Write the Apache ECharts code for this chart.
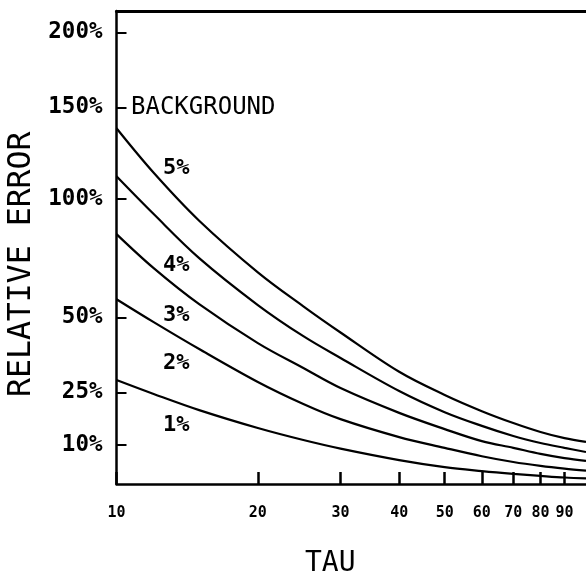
<!DOCTYPE html>
<html>
<head>
<meta charset="utf-8">
<script src="https://cdn.jsdelivr.net/npm/echarts@6/dist/echarts.min.js"></script>
<style>html,body{margin:0;padding:0;background:#fff;}#c{width:586px;height:575px;}</style>
</head>
<body>
<div id="c"></div>
<script>
// TAU values (x) at which curves were read
const tau = [10, 12, 15, 20, 25, 30, 40, 50, 60, 70, 80, 90, 100];
// Relative error (%) for each background level
const bg5 = [137.7, 113.3, 89.8, 67.4, 54.1, 44.6, 31.4, 24.2, 19.4, 16.0, 13.5, 11.8, 10.8];
const bg4 = [111.5, 92.9, 73.3, 54.6, 43.3, 35.9, 25.4, 19.1, 15.2, 12.4, 10.5, 9.2, 8.1];
const bg3 = [83.7, 69.1, 54.9, 40.9, 32.6, 26.3, 18.9, 14.3, 11.0, 9.2, 7.6, 6.5, 5.8];
const bg2 = [56.8, 48.3, 38.9, 28.2, 21.5, 17.1, 12.1, 9.2, 7.0, 5.5, 4.5, 3.8, 3.3];
const bg1 = [28.8, 24.5, 19.7, 14.6, 11.3, 9.0, 6.0, 4.2, 3.2, 2.5, 2.0, 1.6, 1.4];
const curveNames = ['5%', '4%', '3%', '2%', '1%'];
// Axis tick labels
const xTicks = [10, 20, 30, 40, 50, 60, 70, 80, 90];
const yTicksPct = [10, 25, 50, 100, 150, 200];

const curves = [bg5, bg4, bg3, bg2, bg1];
const toRatio = p => 1 + p / 100;
const mono = '"DejaVu Sans Mono", monospace';

const chart = echarts.init(document.getElementById('c'), null, {renderer: 'canvas'});
chart.setOption({
  animation: false,
  backgroundColor: '#fff',
  grid: {left: 116.5, right: -0.5, top: 11, bottom: 91},
  xAxis: [{
    type: 'log', logBase: 10, min: 10, max: 100,
    axisLine: {show: true, lineStyle: {color: '#000', width: 2.5}},
    axisTick: {show: true, inside: true, length: 12, lineStyle: {color: '#000', width: 2.5}, customValues: xTicks},
    axisLabel: {show: true, customValues: xTicks, margin: 22, color: '#000', fontFamily: mono, fontWeight: 'bold', fontSize: 15,
      formatter: v => String(Math.round(v))},
    splitLine: {show: false}, minorTick: {show: false}
  }, {
    type: 'log', logBase: 10, min: 10, max: 100, position: 'top',
    axisLine: {show: true, lineStyle: {color: '#000', width: 3}},
    axisTick: {show: false}, axisLabel: {show: false}, splitLine: {show: false}
  }],
  yAxis: {
    type: 'log', logBase: 10, min: 1, max: Math.sqrt(10),
    axisLine: {show: true, lineStyle: {color: '#000', width: 2.5}},
    axisTick: {show: true, inside: true, length: 10, lineStyle: {color: '#000', width: 2}, customValues: yTicksPct.map(toRatio)},
    axisLabel: {show: true, customValues: yTicksPct.map(toRatio), margin: 14, color: '#000', fontFamily: mono, fontWeight: 'bold', fontSize: 22.5,
      formatter: v => Math.round((v - 1) * 100) + '%'},
    splitLine: {show: false}, minorTick: {show: false}
  },
  series: curves.map((arr, i) => ({
    type: 'line', name: curveNames[i], smooth: 0.35, showSymbol: false,
    lineStyle: {color: '#000', width: 2.2},
    data: tau.map((t, j) => [t, toRatio(arr[j])])
  })),
  graphic: [
    {type: 'text', left: 131, top: 96, style: {text: 'BACKGROUND', font: 'normal 24px ' + mono, fill: '#000'}},
    {type: 'text', left: 163, top: 157, style: {text: '5%', font: 'bold 22px ' + mono, fill: '#000'}},
    {type: 'text', left: 163, top: 254, style: {text: '4%', font: 'bold 22px ' + mono, fill: '#000'}},
    {type: 'text', left: 163, top: 304, style: {text: '3%', font: 'bold 22px ' + mono, fill: '#000'}},
    {type: 'text', left: 163, top: 352, style: {text: '2%', font: 'bold 22px ' + mono, fill: '#000'}},
    {type: 'text', left: 163, top: 414, style: {text: '1%', font: 'bold 22px ' + mono, fill: '#000'}},
    {type: 'text', left: 305, top: 550, style: {text: 'TAU', font: 'normal 28px ' + mono, fill: '#000'}},
    {type: 'text', x: 6, y: 397, rotation: Math.PI / 2, style: {text: 'RELATIVE ERROR', font: 'normal 31.5px ' + mono, fill: '#000', textVerticalAlign: 'top'}}
  ]
});
</script>
</body>
</html>
